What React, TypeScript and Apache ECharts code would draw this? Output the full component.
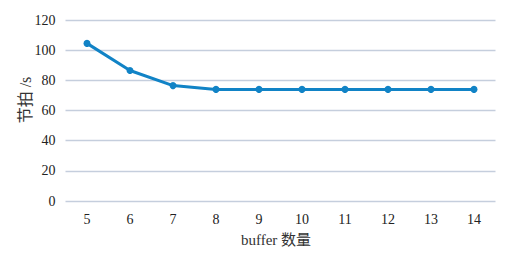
import React, { useEffect, useRef } from "react";
import * as echarts from "echarts";

const categories = ["5", "6", "7", "8", "9", "10", "11", "12", "13", "14"];
const beatValues = [104.5, 86.5, 76.5, 74, 74, 74, 74, 74, 74, 74];
const yTicks = { min: 0, max: 120, interval: 20 };
const xAxisName = "buffer 数量";
const yAxisName = "节拍 /s";

export default function App() {
  const ref = useRef<HTMLDivElement>(null);
  useEffect(() => {
    if (!ref.current) return;
    const chart = echarts.init(ref.current, undefined, { renderer: "svg" });
    const font = "'Liberation Serif', 'Times New Roman', 'Noto Sans CJK SC', serif";
    chart.setOption({
      animation: false,
      grid: { left: 65.5, right: 16.5, top: 20, bottom: 52 },
      xAxis: {
        type: "category",
        data: categories,
        boundaryGap: true,
        axisLine: { show: false },
        axisTick: { show: false },
        axisLabel: { fontFamily: font, fontSize: 14, color: "#222", margin: 11 },
      },
      yAxis: {
        type: "value",
        min: yTicks.min,
        max: yTicks.max,
        interval: yTicks.interval,
        axisLine: { show: false },
        axisTick: { show: false },
        axisLabel: { fontFamily: font, fontSize: 14, color: "#222", margin: 10 },
        splitLine: { lineStyle: { color: "#c5cedd", width: 1.3 } },
      },
      graphic: [
        {
          type: "text",
          x: 276,
          y: 240,
          style: {
            text: xAxisName,
            fontFamily: font,
            fontSize: 15,
            fill: "#333",
            align: "center",
            verticalAlign: "middle",
          },
        },
        {
          type: "text",
          x: 25,
          y: 100,
          rotation: Math.PI / 2,
          style: {
            text: yAxisName,
            fontFamily: font,
            fontSize: 16,
            fill: "#333",
            align: "center",
            verticalAlign: "middle",
          },
        },
      ],
      series: [
        {
          type: "line",
          data: beatValues,
          symbol: "circle",
          symbolSize: 7,
          lineStyle: { color: "#1183c6", width: 3 },
          itemStyle: { color: "#1183c6" },
        },
      ],
    });
    return () => chart.dispose();
  }, []);
  return <div ref={ref} style={{ width: 512, height: 253, position: "absolute", left: 0, top: 0 }} />;
}
